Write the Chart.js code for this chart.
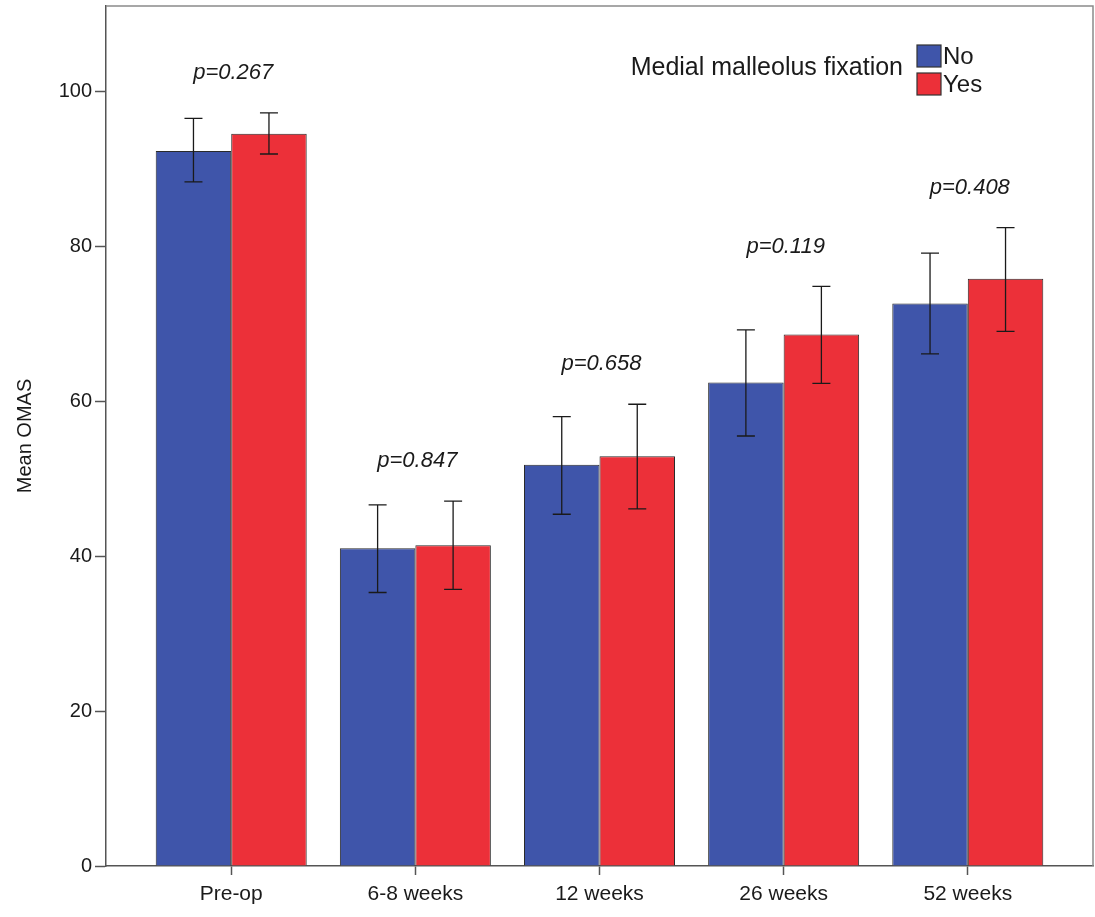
<!DOCTYPE html>
<html>
<head>
<meta charset="utf-8">
<title>Mean OMAS by medial malleolus fixation</title>
<script src="https://cdn.jsdelivr.net/npm/chart.js@4.4.1/dist/chart.umd.min.js"></script>
<style>
  html, body { margin: 0; background: #fff; }
  #wrap { width: 1095px; height: 917px; }
</style>
</head>
<body>
<div id="wrap"><canvas id="omasChart"></canvas></div>
<script>
// Data
const categories = ['Pre-op', '6-8 weeks', '12 weeks', '26 weeks', '52 weeks'];
const meanNo  = [92.3, 41.0, 51.8, 62.4, 72.6];
const lowNo   = [88.3, 35.3, 45.4, 55.5, 66.1];
const highNo  = [96.5, 46.6, 58.0, 69.2, 79.1];
const meanYes = [94.5, 41.4, 52.9, 68.6, 75.8];
const lowYes  = [91.9, 35.7, 46.1, 62.3, 69.0];
const highYes = [97.2, 47.1, 59.6, 74.8, 82.4];
const pValues = ['p=0.267', 'p=0.847', 'p=0.658', 'p=0.119', 'p=0.408'];
const yTicks  = [0, 20, 40, 60, 80, 100];

const FONT = '"Liberation Sans", Arial, sans-serif';
const blue = '#3f55aa';
const red = '#ec3039';
const ink = '#1a1a1a';

// whiskers with caps
const errorBars = {
  id: 'errorBars',
  afterDatasetsDraw(chart) {
    const { ctx, scales: { y } } = chart;
    ctx.save();
    ctx.strokeStyle = ink;
    ctx.lineWidth = 1.3;
    chart.data.datasets.forEach((ds, di) => {
      chart.getDatasetMeta(di).data.forEach((bar, i) => {
        const top = y.getPixelForValue(ds.high[i]);
        const bot = y.getPixelForValue(ds.low[i]);
        ctx.beginPath();
        ctx.moveTo(bar.x, top); ctx.lineTo(bar.x, bot);
        ctx.moveTo(bar.x - 9, top); ctx.lineTo(bar.x + 9, top);
        ctx.moveTo(bar.x - 9, bot); ctx.lineTo(bar.x + 9, bot);
        ctx.stroke();
      });
    });
    ctx.restore();
  }
};

// p-values above each group
const pLabels = {
  id: 'pLabels',
  afterDraw(chart) {
    const { ctx, scales: { x, y } } = chart;
    ctx.save();
    ctx.fillStyle = ink;
    ctx.font = 'italic 22px ' + FONT;
    ctx.textAlign = 'center';
    ctx.textBaseline = 'middle';
    pValues.forEach((p, i) => {
      const top = y.getPixelForValue(Math.max(highNo[i], highYes[i]));
      ctx.fillText(p, x.getPixelForValue(i) + 2, top - 40);
    });
    ctx.restore();
  }
};

// top / right frame + legend in the corner
const frameAndLegend = {
  id: 'frameAndLegend',
  afterDraw(chart) {
    const { ctx, chartArea: a } = chart;
    ctx.save();
    ctx.strokeStyle = '#8a8a8a';
    ctx.lineWidth = 1.5;
    ctx.beginPath();
    ctx.moveTo(a.left, a.top); ctx.lineTo(a.right, a.top); ctx.lineTo(a.right, a.bottom);
    ctx.stroke();

    ctx.fillStyle = ink;
    ctx.font = '25px ' + FONT;
    ctx.textBaseline = 'middle';
    ctx.textAlign = 'right';
    ctx.fillText('Medial malleolus fixation', 903, 68);
    ctx.textAlign = 'left';
    ctx.font = '24px ' + FONT;
    chart.data.datasets.forEach((ds, i) => {
      const top = 45 + i * 28;
      ctx.fillStyle = ds.backgroundColor;
      ctx.fillRect(917, top, 24, 22);
      ctx.strokeStyle = '#333';
      ctx.lineWidth = 1.2;
      ctx.strokeRect(917, top, 24, 22);
      ctx.fillStyle = ink;
      ctx.fillText(ds.label, 943, top + 12);
    });
    ctx.restore();
  }
};

new Chart(document.getElementById('omasChart'), {
  type: 'bar',
  data: {
    labels: categories,
    datasets: [
      { label: 'No', data: meanNo, low: lowNo, high: highNo,
        backgroundColor: blue, borderColor: '#2a2a2a', borderWidth: 1 },
      { label: 'Yes', data: meanYes, low: lowYes, high: highYes,
        backgroundColor: red, borderColor: '#2a2a2a', borderWidth: 1 }
    ]
  },
  options: {
    responsive: true,
    maintainAspectRatio: false,
    animation: false,
    categoryPercentage: 0.82,
    barPercentage: 1,
    layout: { padding: { top: 6, right: 2, left: 0, bottom: 0 } },
    plugins: { legend: { display: false }, tooltip: { enabled: false } },
    scales: {
      x: {
        offset: true,
        // extra white space left and right of the outer groups
        afterBuildTicks: s => { s._startValue -= 0.18; s._valueRange += 0.36; },
        afterFit: s => { s.height = 51; s.paddingLeft = 0; s.paddingRight = 0; },
        grid: { offset: false, drawOnChartArea: false, tickLength: 9, color: '#555', tickWidth: 1.5 },
        border: { color: '#555', width: 1.5 },
        ticks: { color: ink, padding: 7, font: { family: FONT, size: 21 } }
      },
      y: {
        min: 0,
        max: 111,
        afterBuildTicks: s => { s.ticks = yTicks.map(v => ({ value: v })); },
        afterFit: s => { s.width = 106; s.paddingTop = 0; s.paddingBottom = 0; },
        grid: { drawOnChartArea: false, tickLength: 11, color: '#555', tickWidth: 1.5 },
        border: { color: '#555', width: 1.5 },
        ticks: { color: ink, padding: 3, font: { family: FONT, size: 20 } },
        title: { display: true, text: 'Mean OMAS', color: ink,
                 padding: { top: 13, bottom: 0 }, font: { family: FONT, size: 20 } }
      }
    }
  },
  plugins: [errorBars, pLabels, frameAndLegend]
});
</script>
</body>
</html>
